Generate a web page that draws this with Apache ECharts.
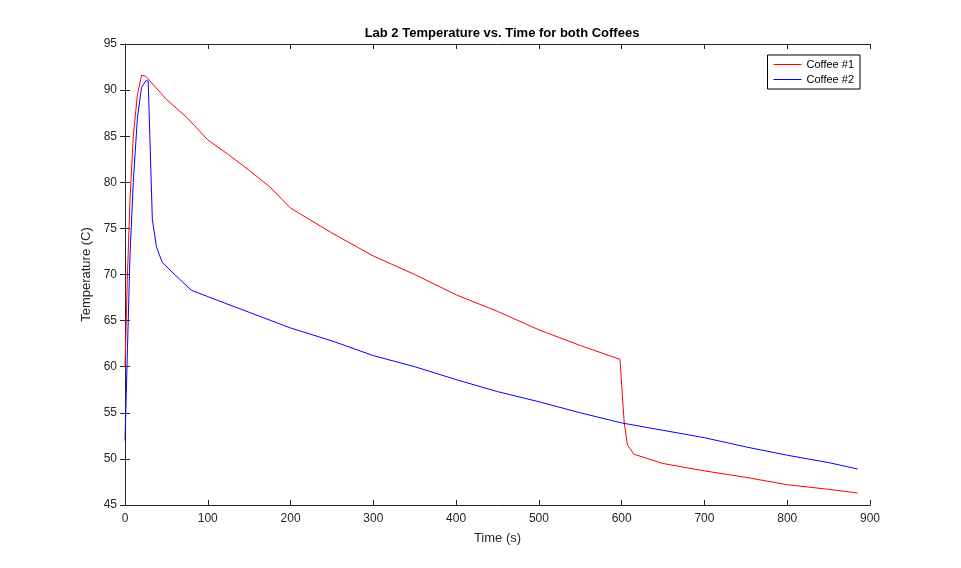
<!DOCTYPE html>
<html>
<head>
<meta charset="UTF-8">
<script src="https://cdn.jsdelivr.net/npm/echarts@6/dist/echarts.min.js"></script>
<style>
* { padding: 0; margin: 0; }
#main { width: 961px; height: 568px; background: #fff; }
</style>
</head>
<body>
<div id="main"></div>
<script>
// time (s) / temperature (C)
var time1 = [0, 3, 6, 10, 15, 20, 25, 30, 50, 75, 100, 125, 150, 175, 200, 250, 300, 350, 400, 450, 500, 550, 598, 600, 603, 607, 615, 650, 700, 750, 800, 850, 885];
var temp1 = [60, 70, 78, 85, 89.5, 91.6, 91.5, 91, 89, 87, 84.6, 83, 81.3, 79.5, 77.2, 74.5, 72, 70, 67.8, 66, 64, 62.3, 60.8, 58, 54, 51.5, 50.5, 49.5, 48.7, 48, 47.2, 46.7, 46.3];
var time2 = [0, 3, 6, 10, 15, 20, 25, 28, 30, 33, 38, 45, 60, 80, 100, 150, 200, 250, 300, 350, 400, 450, 500, 550, 600, 650, 700, 750, 800, 850, 885];
var temp2 = [52, 62, 72, 80, 87, 90.3, 91, 91, 85, 76, 73, 71.3, 70, 68.3, 67.6, 65.9, 64.2, 62.8, 61.2, 60, 58.6, 57.3, 56.2, 55, 53.9, 53.1, 52.3, 51.3, 50.4, 49.6, 48.9];
var xTicks = { min: 0, max: 900, interval: 100 };
var yTicks = { min: 45, max: 95, interval: 5 };

function pairs(xs, ys) { return xs.map(function (x, i) { return [x, ys[i]]; }); }

var chart = echarts.init(document.getElementById('main'));
var font = 'Arial, "Liberation Sans", sans-serif';
var lbl = { color: '#262626', fontSize: 12, fontFamily: font };
chart.setOption({
  animation: false,
  title: { text: 'Lab 2 Temperature vs. Time for both Coffees', left: 497, top: 22, textAlign: 'center',
    textStyle: { fontSize: 13, fontWeight: 'bold', color: '#000', fontFamily: font } },
  legend: { orient: 'vertical', right: 101, top: 55, borderColor: '#000', borderWidth: 1, padding: [4, 6, 4, 6],
    itemWidth: 28, itemHeight: 1, itemGap: 4, icon: 'rect', backgroundColor: '#fff',
    textStyle: { fontSize: 11, fontFamily: font, color: '#000' },
    data: ['Coffee #1', 'Coffee #2'] },
  grid: { left: 125, right: 91, top: 44, bottom: 63 },
  xAxis: [{ type: 'value', min: xTicks.min, max: xTicks.max, interval: xTicks.interval,
    name: 'Time (s)', nameLocation: 'middle', nameGap: 27, nameTextStyle: { fontSize: 13, color: '#262626', fontFamily: font },
    axisLine: { lineStyle: { color: '#262626' } }, axisTick: { inside: true, length: 5 }, axisLabel: lbl, splitLine: { show: false } },
    { type: 'value', position: 'top', min: xTicks.min, max: xTicks.max, interval: xTicks.interval,
    axisLine: { show: true, lineStyle: { color: '#262626' } }, axisTick: { inside: true, length: 5 }, axisLabel: { show: false }, splitLine: { show: false } }],
  yAxis: [{ type: 'value', min: yTicks.min, max: yTicks.max, interval: yTicks.interval,
    name: 'Temperature (C)', nameLocation: 'middle', nameGap: 26, nameTextStyle: { fontSize: 13, color: '#262626', fontFamily: font },
    axisLine: { show: true, lineStyle: { color: '#262626' } }, axisTick: { show: true, inside: true, length: 5 }, axisLabel: lbl, splitLine: { show: false } },
    { type: 'value', position: 'right', min: yTicks.min, max: yTicks.max, interval: yTicks.interval,
    axisLine: { show: true, lineStyle: { color: '#262626' } }, axisTick: { show: true, inside: true, length: 5 }, axisLabel: { show: false }, splitLine: { show: false } }],
  series: [
    { name: 'Coffee #1', type: 'line', data: pairs(time1, temp1), showSymbol: false, color: '#ff0000', lineStyle: { width: 1 } },
    { name: 'Coffee #2', type: 'line', data: pairs(time2, temp2), showSymbol: false, color: '#0000ff', lineStyle: { width: 1 } }
  ]
});
</script>
</body>
</html>
